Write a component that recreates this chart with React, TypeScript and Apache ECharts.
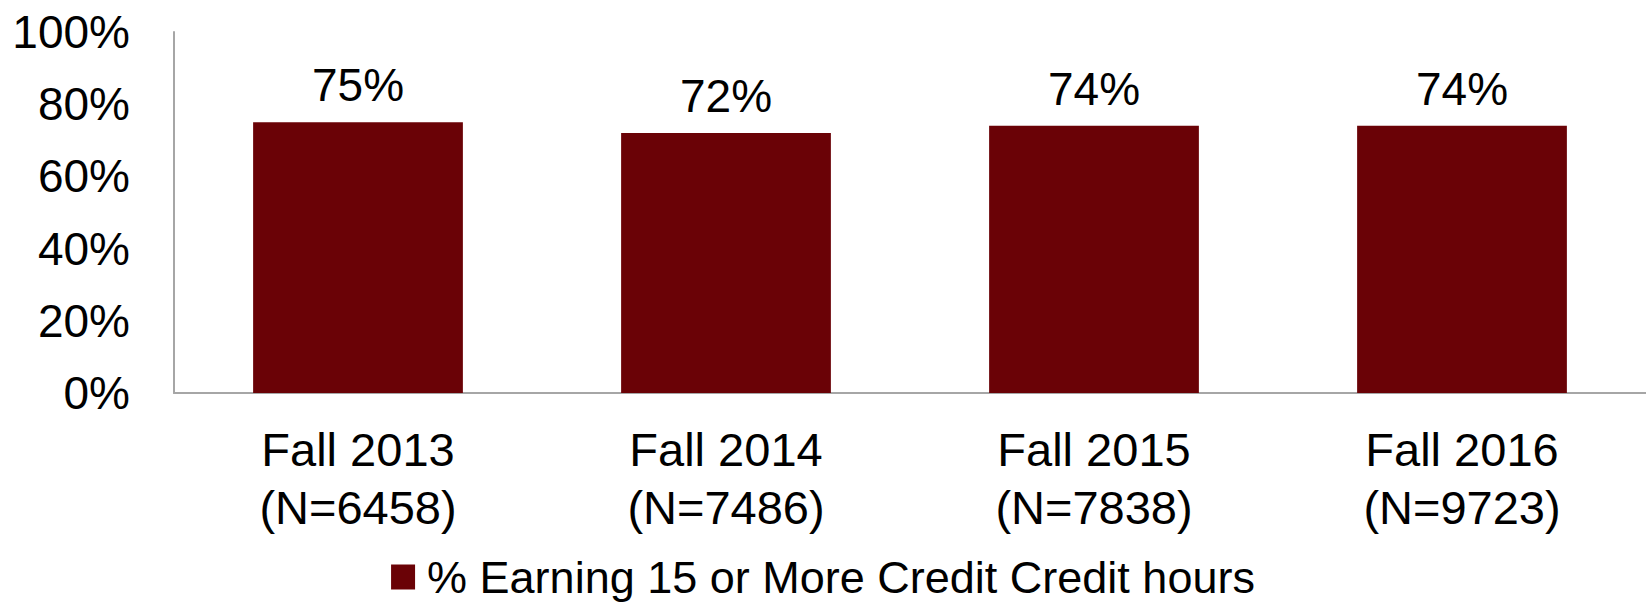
import React, { useEffect, useRef } from "react";
import * as echarts from "echarts";

const categories = ["Fall 2013\n(N=6458)", "Fall 2014\n(N=7486)", "Fall 2015\n(N=7838)", "Fall 2016\n(N=9723)"];
const seriesName = "% Earning 15 or More Credit Credit hours";
const values = [75, 72, 74, 74];
const yTicks = { min: 0, max: 100, interval: 20 };

export default function App() {
  const ref = useRef<HTMLDivElement>(null);
  useEffect(() => {
    const chart = echarts.init(ref.current!, null, { renderer: "svg" });
    const font = "'Liberation Sans', Arial, sans-serif";
    chart.setOption({
      animation: false,
      backgroundColor: "#ffffff",
      grid: { left: 174, right: 0, top: 32, bottom: 213, containLabel: false },
      legend: {
        data: [seriesName],
        left: "center",
        top: 552,
        padding: 0,
        icon: "rect",
        itemWidth: 24,
        itemHeight: 25,
        itemGap: 10,
        textStyle: { fontFamily: font, fontSize: 45, lineHeight: 50, color: "#000", padding: [0, 0, 0, 7] },
      },
      xAxis: {
        type: "category",
        data: categories,
        axisLine: { lineStyle: { color: "#a6a6a6", width: 2 } },
        axisTick: { show: false },
        axisLabel: {
          fontFamily: font,
          fontSize: 47,
          color: "#000",
          lineHeight: 58,
          margin: 27,
          interval: 0,
        },
      },
      yAxis: {
        type: "value",
        min: yTicks.min,
        max: yTicks.max,
        interval: yTicks.interval,
        axisLine: { show: true, lineStyle: { color: "#a6a6a6", width: 2 } },
        axisTick: { show: false },
        splitLine: { show: false },
        axisLabel: {
          fontFamily: font,
          fontSize: 46,
          color: "#000",
          margin: 44,
          formatter: "{value}%",
        },
      },
      series: [
        {
          name: seriesName,
          type: "bar",
          data: values,
          barCategoryGap: "43%",
          itemStyle: { color: "#6a0206" },
          label: {
            show: true,
            position: "top",
            distance: 14,
            formatter: "{c}%",
            fontFamily: font,
            fontSize: 46,
            color: "#000",
          },
        },
      ],
    });
    return () => chart.dispose();
  }, []);
  return <div ref={ref} style={{ position: "fixed", left: 0, top: 0, width: 1646, height: 606 }} />;
}
